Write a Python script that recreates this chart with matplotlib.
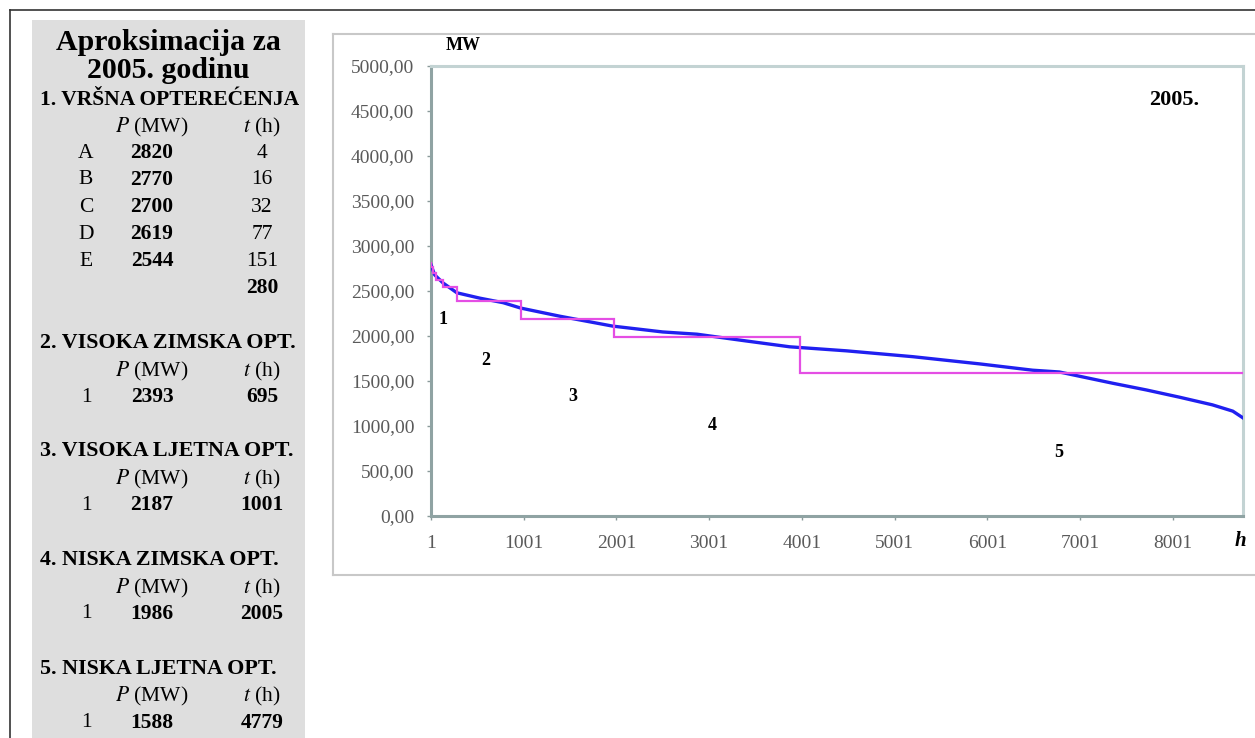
import numpy as np
import matplotlib
matplotlib.use('Agg')
import matplotlib.pyplot as plt
from matplotlib.lines import Line2D
from matplotlib.patches import Rectangle

# ------------------------------------------------------------
# data
# ------------------------------------------------------------
# load duration curve (hour, MW)
curve_h = [1, 40, 130, 280, 530, 780, 970, 1390, 1960, 2500, 2870, 3400, 3870,
           4485, 5200, 5920, 6490, 6780, 7355, 7720, 8075, 8430, 8650, 8760]
curve_mw = [2790, 2680, 2590, 2480, 2420, 2370, 2310, 2220, 2110, 2045, 2020, 1945, 1880,
            1835, 1770, 1690, 1620, 1600, 1475, 1400, 1320, 1235, 1165, 1090]

# approximation steps
step_p = [2820, 2770, 2700, 2619, 2544, 2393, 2187, 1986, 1588]
step_t = [4, 16, 32, 77, 151, 695, 1001, 2005, 4779]

peak_rows = [('A', '2820', '4'), ('B', '2770', '16'), ('C', '2700', '32'),
             ('D', '2619', '77'), ('E', '2544', '151')]
peak_total = '280'
sections = [('2. VISOKA ZIMSKA OPT.', '2393', '695'),
            ('3. VISOKA LJETNA OPT.', '2187', '1001'),
            ('4. NISKA ZIMSKA OPT.', '1986', '2005'),
            ('5. NISKA LJETNA OPT.', '1588', '4779')]

region_labels = ['1', '2', '3', '4', '5']
region_pos = [(130, 2180), (590, 1730), (1530, 1330), (3030, 1010), (6770, 710)]

y_ticks = list(range(0, 5001, 500))
x_ticks = [1, 1001, 2001, 3001, 4001, 5001, 6001, 7001, 8001]

W, H = 1255, 738
SERIF = ['Liberation Serif', 'DejaVu Serif']


def fx(px):
    return px / W


def fy(py):
    return 1 - py / H


fig = plt.figure(figsize=(W / 100, H / 100), dpi=100)
fig.patch.set_facecolor('white')

# page frame and grey side panel
fig.add_artist(Line2D([fx(10), 1], [fy(10), fy(10)], color='#333333', lw=1.2))
fig.add_artist(Line2D([fx(10), fx(10)], [fy(10), 0], color='#333333', lw=1.2))
fig.add_artist(Rectangle((fx(32), 0), fx(305) - fx(32), fy(20), color='#dedede', lw=0))

# chart box
box_c = '#c8c8c8'
fig.add_artist(Line2D([fx(333), 1], [fy(34), fy(34)], color=box_c, lw=1.5))
fig.add_artist(Line2D([fx(333), fx(333)], [fy(34), fy(575)], color=box_c, lw=1.5))
fig.add_artist(Line2D([fx(333), 1], [fy(575), fy(575)], color=box_c, lw=1.5))

# ------------------------------------------------------------
# side panel texts
# ------------------------------------------------------------
BODY = 15.5


def txt(px, py, s, size, bold=False, ha='center'):
    fig.text(fx(px), fy(py), s, fontsize=size, family=SERIF,
             fontweight='bold' if bold else 'normal', ha=ha, va='center')


def head_row(py):
    fig.text(fx(152), fy(py), '$P$ (MW)', fontsize=BODY, family=SERIF, ha='center', va='center',
             math_fontfamily='stix')
    fig.text(fx(262), fy(py), '$t$ (h)', fontsize=BODY, family=SERIF, ha='center', va='center',
             math_fontfamily='stix')


txt(168, 42, 'Aproksimacija za', 21.5, bold=True)
txt(168, 70, '2005. godinu', 21.5, bold=True)
txt(40, 100, '1. VRŠNA OPTEREĆENJA', 15.5, bold=True, ha='left')
head_row(127)
for i, (lab, p, t) in enumerate(peak_rows):
    yy = 153 + i * 27
    txt(86, yy, lab, BODY)
    txt(152, yy, p, BODY, bold=True)
    txt(262, yy, t, BODY)
txt(262, 288, peak_total, BODY, bold=True)

for i, (name, p, t) in enumerate(sections):
    y0 = 343 + i * 108.5
    txt(40, y0, name, 15.8, bold=True, ha='left')
    head_row(y0 + 28)
    txt(86, y0 + 54, '1', BODY)
    txt(152, y0 + 54, p, BODY, bold=True)
    txt(262, y0 + 54, t, BODY, bold=True)

# ------------------------------------------------------------
# chart
# ------------------------------------------------------------
ax = fig.add_axes([fx(431), fy(516), fx(1243) - fx(431), fy(66) - fy(516)])
ax.set_xlim(1, 8760)
ax.set_ylim(0, 5000)

ax.plot(curve_h, curve_mw, color='#2020f0', lw=2.4, zorder=3)

edges = np.concatenate([[1], 1 + np.cumsum(step_t)])
ax.stairs(step_p, edges, color='#e44ee4', lw=1.6, baseline=None, zorder=4)

for lab, (hx, hy) in zip(region_labels, region_pos):
    ax.text(hx, hy, lab, fontsize=13, family=SERIF, fontweight='bold', ha='center', va='center')
ax.text(8020, 4620, '2005.', fontsize=16, family=SERIF, fontweight='bold', ha='center', va='center')

ax.set_yticks(y_ticks)
ax.set_yticklabels([('%.2f' % v).replace('.', ',') for v in y_ticks])
ax.set_xticks(x_ticks)
ax.set_xticklabels([str(v) for v in x_ticks])
ax.tick_params(axis='both', direction='out', length=3, width=1, color='#8a9a9a',
               labelcolor='#5a5a5a', labelsize=14)
ax.tick_params(axis='y', pad=9)
ax.tick_params(axis='x', pad=11)
for lbl in ax.get_xticklabels() + ax.get_yticklabels():
    lbl.set_family(SERIF)

for side in ['left', 'bottom']:
    ax.spines[side].set_color('#8fa3a3')
    ax.spines[side].set_linewidth(2.2)
for side in ['top', 'right']:
    ax.spines[side].set_color('#c3d3d3')
    ax.spines[side].set_linewidth(2.2)

fig.text(fx(463), fy(46), 'MW', fontsize=13, family=SERIF, fontweight='bold', ha='center', va='center')
fig.text(fx(1240), fy(541), 'h', fontsize=15, family=SERIF, fontweight='bold', fontstyle='italic',
         ha='center', va='center')

fig.savefig('out.png', dpi=100)
plt.close(fig)
